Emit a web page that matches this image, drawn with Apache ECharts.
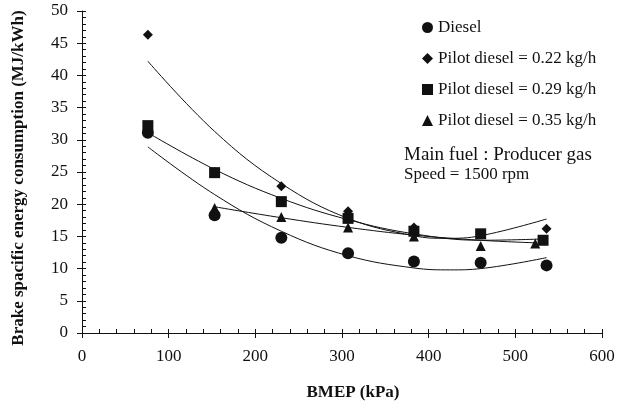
<!DOCTYPE html>
<html>
<head>
<meta charset="utf-8">
<script src="https://cdn.jsdelivr.net/npm/echarts@6/dist/echarts.min.js"></script>
<style>
  html, body { margin: 0; padding: 0; background: #fff; }
  #chart { width: 618px; height: 409px; }
</style>
</head>
<body>
<div id="chart"></div>
<script>
// measured points (BMEP kPa, MJ/kWh)
const dieselX = [76, 153, 230, 307, 383, 460, 536];
const diesel = [31.1, 18.3, 14.8, 12.4, 11.1, 10.9, 10.5];
const pilot022X = [76, 153, 230, 307, 383, 460, 536];
const pilot022 = [46.3, 25.0, 22.8, 18.9, 16.4, 15.4, 16.2];
const pilot029X = [76, 153, 230, 307, 383, 460, 532];
const pilot029 = [32.2, 24.9, 20.4, 17.8, 15.8, 15.4, 14.4];
const pilot035X = [153, 230, 307, 383, 460, 523];
const pilot035 = [19.4, 18.0, 16.4, 15.0, 13.5, 13.9];

// trend curves
const dieselFitX = [76, 153, 230, 307, 383, 425, 460, 536];
const dieselFit = [28.9, 21.5, 15.8, 12.0, 10.1, 9.8, 10.0, 11.7];
const pilot022FitX = [76, 153, 230, 307, 383, 420, 460, 536];
const pilot022Fit = [42.2, 31.3, 23.2, 17.8, 15.1, 14.7, 15.1, 17.7];
const pilot029FitX = [76, 153, 230, 307, 383, 460, 532];
const pilot029Fit = [31.1, 25.4, 20.9, 17.6, 15.4, 14.4, 14.6];
const pilot035FitX = [153, 230, 307, 383, 460, 523];
const pilot035Fit = [19.6, 17.9, 16.4, 15.2, 14.4, 14.0];

const names = ['Diesel', 'Pilot diesel = 0.22 kg/h', 'Pilot diesel = 0.29 kg/h', 'Pilot diesel = 0.35 kg/h'];

function pairs(xs, ys) { return xs.map((x, i) => [x, ys[i]]); }

const font = 'Liberation Serif';
const black = '#111';

function fitLine(xs, ys) {
  return {
    type: 'line', data: pairs(xs, ys), smooth: 0.4, symbol: 'none',
    lineStyle: { color: black, width: 1 }, silent: true, z: 1
  };
}
function dots(name, xs, ys, symbol, size) {
  return {
    name: name, type: 'scatter', data: pairs(xs, ys), symbol: symbol, symbolSize: size,
    itemStyle: { color: black, opacity: 1 }, z: 3
  };
}

const chart = echarts.init(document.getElementById('chart'));
chart.setOption({
  backgroundColor: '#fff',
  animation: false,
  textStyle: { fontFamily: font, color: black },
  grid: { left: 82, right: 16, top: 11, bottom: 76 },
  legend: {
    data: names, orient: 'vertical', left: 417, top: 14,
    itemWidth: 11, itemHeight: 11, itemGap: 14,
    textStyle: { fontFamily: font, fontSize: 17, color: black }
  },
  xAxis: [{
    type: 'value', position: 'bottom', min: 0, max: 600, interval: 100,
    axisLine: { lineStyle: { color: black } },
    axisTick: { inside: true, length: 4, lineStyle: { color: black } },
    minorTick: { show: true, splitNumber: 5, length: 4, lineStyle: { color: black } },
    axisLabel: { fontFamily: font, fontSize: 17, color: black, margin: 15 },
    splitLine: { show: false }
  }, {
    type: 'value', position: 'bottom', min: 0, max: 600, interval: 100,
    axisLine: { show: false },
    axisTick: { length: 5, lineStyle: { color: black } },
    axisLabel: { show: false }, splitLine: { show: false }
  }],
  yAxis: [{
    type: 'value', position: 'left', min: 0, max: 50, interval: 5,
    axisLine: { show: true, lineStyle: { color: black } },
    axisTick: { show: true, inside: true, length: 4, lineStyle: { color: black } },
    minorTick: { show: true, splitNumber: 5, length: 4, lineStyle: { color: black } },
    axisLabel: { fontFamily: font, fontSize: 17, color: black, margin: 14 },
    splitLine: { show: false }
  }, {
    type: 'value', position: 'left', min: 0, max: 50, interval: 5,
    axisLine: { show: false },
    axisTick: { show: true, length: 5, lineStyle: { color: black } },
    axisLabel: { show: false }, splitLine: { show: false }
  }],
  graphic: [
    { type: 'text', x: 353, y: 393, style: { text: 'BMEP (kPa)', font: 'bold 17px "Liberation Serif"', fill: black, align: 'center', verticalAlign: 'middle' } },
    { type: 'text', x: 19, y: 178, rotation: Math.PI / 2, style: { text: 'Brake spacific energy consumption (MJ/kWh)', font: 'bold 17px "Liberation Serif"', fill: black, align: 'center', verticalAlign: 'middle' } },
    { type: 'text', left: 404, top: 146, style: { text: 'Main fuel : Producer gas', font: '19px "Liberation Serif"', fill: black } },
    { type: 'text', left: 404, top: 166, style: { text: 'Speed = 1500 rpm', font: '17px "Liberation Serif"', fill: black } }
  ],
  series: [
    fitLine(dieselFitX, dieselFit),
    fitLine(pilot022FitX, pilot022Fit),
    fitLine(pilot029FitX, pilot029Fit),
    fitLine(pilot035FitX, pilot035Fit),
    dots(names[0], dieselX, diesel, 'circle', 12),
    dots(names[1], pilot022X, pilot022, 'diamond', 10),
    dots(names[2], pilot029X, pilot029, 'rect', 11),
    dots(names[3], pilot035X, pilot035, 'triangle', 10)
  ]
});
</script>
</body>
</html>
